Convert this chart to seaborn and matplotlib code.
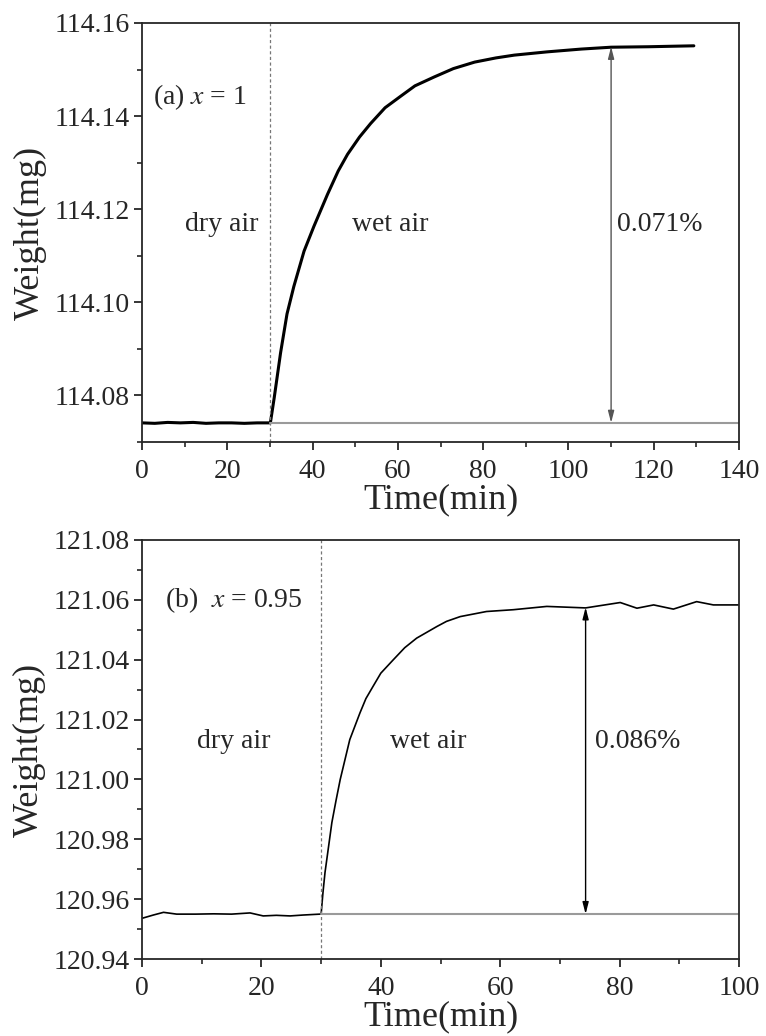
import numpy as np
import pandas as pd
import matplotlib
matplotlib.use("Agg")
import matplotlib.pyplot as plt
from matplotlib.ticker import MultipleLocator, FormatStrFormatter
import seaborn as sns

# panel (a), x = 1
time_a = [0, 3, 6, 9, 12, 15, 18, 21, 24, 27, 30.1, 31.0, 32.5, 34.0, 35.6, 38.0,
          40.3, 43.5, 46.0, 48.2, 51.0, 53.6, 57.0, 60.7, 64.0, 68.5, 73.0, 78.0,
          83.0, 87.3, 95.0, 103.0, 110.0, 118.8, 124.0, 129.4]
weight_a = [114.0741, 114.0740, 114.0742, 114.0741, 114.0742, 114.0740, 114.0741,
            114.0741, 114.0740, 114.0741, 114.0741, 114.0795, 114.0892, 114.0975,
            114.1034, 114.1110, 114.1163, 114.1232, 114.1282, 114.1318, 114.1355,
            114.1384, 114.1418, 114.1443, 114.1465, 114.1484, 114.1502, 114.1516,
            114.1525, 114.1531, 114.1538, 114.1544, 114.1548, 114.1549, 114.1550,
            114.1551]

# panel (b), x = 0.95
time_b = [0, 1.9, 3.6, 5.8, 9.0, 12.0, 15.0, 18.1, 20.3, 22.5, 24.8, 27.0, 29.8, 30.0,
          30.3, 30.65, 31.8, 32.5, 33.2, 34.8, 36.5, 37.5, 38.7, 40.0, 42.1, 44.0,
          46.0, 49.4, 51.0, 53.3, 57.7, 62.2, 67.8, 74.3, 80.1, 82.9, 85.7, 89.0,
          92.9, 95.7, 100.0]
weight_b = [120.9536, 120.9547, 120.9556, 120.9550, 120.9550, 120.9551, 120.9550,
            120.9554, 120.9544, 120.9546, 120.9544, 120.9547, 120.9550, 120.9550,
            120.9620, 120.9689, 120.9856, 120.9930, 121.0000, 121.0133, 121.0222,
            121.0270, 121.0311, 121.0355, 121.0400, 121.0440, 121.0472, 121.0511,
            121.0528, 121.0544, 121.0561, 121.0567, 121.0578, 121.0573, 121.0591,
            121.0572, 121.0583, 121.0569, 121.0594, 121.0583, 121.0583]

switch_time = 30
panels = [
    dict(t=time_a, w=weight_a, xlim=(0, 140), ylim=(114.07, 114.16),
         ymaj=np.arange(114.08, 114.161, 0.02), base=114.0741, top=114.1549,
         arrow_x=110, pct="0.071%", label=("(a) ", "x", " = 1"), lw=2.2,
         arrow_color="#555555", text_x=(0.134, 0.415, 0.868), head=(0.018, 0.823)),
    dict(t=time_b, w=weight_b, xlim=(0, 100), ylim=(120.94, 121.08),
         ymaj=np.arange(120.94, 121.081, 0.02), base=120.9550, top=121.0575,
         arrow_x=74.3, pct="0.086%", label=("(b)  ", "x", " = 0.95"), lw=1.2,
         arrow_color="black", text_x=(0.154, 0.479, 0.831), head=(0.038, 0.857)),
]

sns.set_style("ticks")
plt.rcParams['font.family'] = ['Liberation Serif', 'DejaVu Serif']
plt.rcParams['mathtext.fontset'] = 'stix'

fig = plt.figure(figsize=(7.66, 10.36), dpi=100)
boxes = [[0.1854, 0.5734, 0.7794, 0.4044], [0.1854, 0.0743, 0.7794, 0.4045]]

for box, p in zip(boxes, panels):
    ax = fig.add_axes(box)
    df = pd.DataFrame({"time": p["t"], "weight": p["w"]})
    sns.lineplot(data=df, x="time", y="weight", ax=ax, color="black",
                 lw=p["lw"], estimator=None)
    ax.axvline(switch_time, color="#777777", lw=0.9, ls=(0, (2.5, 2)))
    ax.plot([switch_time, p["xlim"][1]], [p["base"], p["base"]], color="#9a9a9a", lw=1.5)
    ax.annotate("", xy=(p["arrow_x"], p["top"]), xytext=(p["arrow_x"], p["base"]),
                arrowprops=dict(arrowstyle="<|-|>,head_length=0.7,head_width=0.18",
                                color=p["arrow_color"], lw=1.0, shrinkA=0, shrinkB=0))

    ax.set_xlim(*p["xlim"])
    ax.set_ylim(*p["ylim"])
    ax.set_yticks(p["ymaj"])
    ax.xaxis.set_major_locator(MultipleLocator(20))
    ax.xaxis.set_minor_locator(MultipleLocator(10))
    ax.yaxis.set_minor_locator(MultipleLocator(0.01))
    ax.yaxis.set_major_formatter(FormatStrFormatter("%.2f"))
    ax.tick_params(which="major", direction="out", length=6, width=1.3,
                   labelsize=20, pad=3, top=False, right=False)
    ax.tick_params(axis="x", which="major", pad=6)
    ax.tick_params(which="minor", direction="out", length=3.5, width=1.2,
                   top=False, right=False)
    for s in ax.spines.values():
        s.set_linewidth(1.3)
        s.set_visible(True)

    ax.set_xlabel("Time(min)", fontsize=26, labelpad=0)
    ax.set_ylabel("Weight(mg)", fontsize=26, labelpad=5)

    # region annotations
    y0, y1 = p["ylim"]
    x0, x1 = p["xlim"]
    lab_y = y0 + (y1 - y0) * 0.52
    for fx, s in zip(p["text_x"], ["dry air", "wet air", p["pct"]]):
        ax.text(x0 + (x1 - x0) * fx, lab_y, s, fontsize=20, ha="center", va="center")
    pre, var, post = p["label"]
    ax.text(x0 + (x1 - x0) * p["head"][0], y0 + (y1 - y0) * p["head"][1],
            pre + r"$\mathit{" + var + "}$" + post, fontsize=20, va="center", ha="left")

fig.savefig("out.png", dpi=100)
